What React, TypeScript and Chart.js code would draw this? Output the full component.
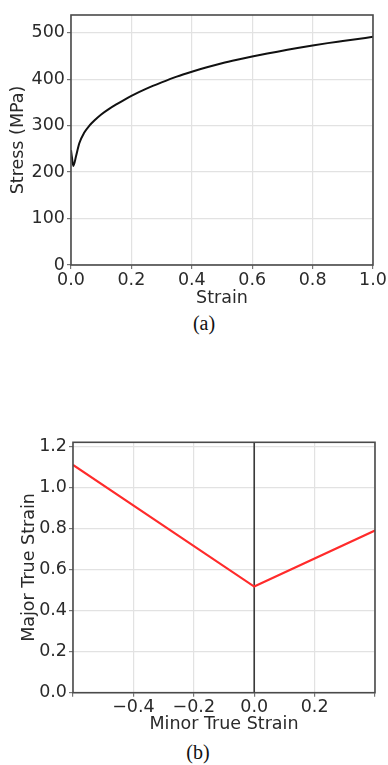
import React, { useEffect, useRef } from "react";
import { Chart, registerables } from "chart.js";

Chart.register(...registerables);

// ---- Data: (a) stress-strain curve ----
const strainA = [0, 0.003, 0.0076, 0.0166, 0.0275, 0.044, 0.061, 0.08, 0.1, 0.125, 0.15, 0.175, 0.2, 0.25, 0.3, 0.35, 0.4, 0.45, 0.5, 0.55, 0.6, 0.65, 0.7, 0.75, 0.8, 0.85, 0.9, 0.95, 1.0];
const stressA = [247, 232, 213, 234, 262, 285, 300, 312.5, 324, 335.5, 345.5, 355, 364, 379.5, 393, 405.5, 416, 425.5, 434, 441.5, 448.5, 455, 461, 467, 472.5, 477.5, 482, 486.5, 491];
const yTicksA = [0, 100, 200, 300, 400, 500];

// ---- Data: (b) forming limit curve ----
const minorStrainB = [-0.6, 0.0, 0.4];
const majorStrainB = [1.11, 0.517, 0.79];
const zeroLineX = [0, 0];
const zeroLineY = [0, 1.22];

const FONT = "'DejaVu Sans', sans-serif";
const TEXT = "#2a2a2a";
const FS = 17.5;

const framePlugin = {
  id: "frame",
  afterDatasetsDraw(chart: any) {
    const { ctx, chartArea } = chart;
    ctx.save();
    ctx.strokeStyle = "#4a4a4a";
    ctx.lineWidth = 1.6;
    ctx.strokeRect(chartArea.left, chartArea.top, chartArea.right - chartArea.left, chartArea.bottom - chartArea.top);
    ctx.restore();
  },
};

function axisCommon() {
  return {
    grid: { color: "#e2e2e2", lineWidth: 1.2, tickColor: "#777", tickLength: 4, drawTicks: true },
    border: { display: false },
  };
}

function ChartA() {
  const ref = useRef<HTMLCanvasElement>(null);
  useEffect(() => {
    const chart = new Chart(ref.current!, {
      type: "line",
      data: {
        datasets: [
          {
            data: strainA.map((x, i) => ({ x, y: stressA[i] })),
            borderColor: "#111",
            borderWidth: 2,
            pointRadius: 0,
            cubicInterpolationMode: "monotone",
            fill: false,
          },
        ],
      },
      options: {
        animation: false,
        responsive: false,
        devicePixelRatio: 1,
        layout: { padding: { top: 15, right: 15, left: 0, bottom: 0 } },
        plugins: { legend: { display: false }, tooltip: { enabled: false } },
        scales: {
          x: {
            type: "linear",
            min: 0,
            max: 1,
            ...axisCommon(),
            afterFit: (s: any) => { s.height = 45; },
            ticks: {
              stepSize: 0.2,
              padding: 1,
              color: TEXT,
              font: { family: FONT, size: FS },
              maxRotation: 0,
              callback: (v: any) => Number(v).toFixed(1),
            },
            title: { display: true, text: "Strain", color: TEXT, font: { family: FONT, size: FS }, padding: { top: 0, bottom: 1.5 } },
          },
          y: {
            type: "linear",
            min: 0,
            max: 538,
            ...axisCommon(),
            afterFit: (s: any) => { s.width = 71; },
            afterBuildTicks: (s: any) => { s.ticks = yTicksA.map((v) => ({ value: v })); },
            ticks: {
              stepSize: 100,
              includeBounds: false,
              padding: 2,
              color: TEXT,
              font: { family: FONT, size: FS },
            },
            title: { display: true, text: "Stress (MPa)", color: TEXT, font: { family: FONT, size: FS }, padding: { top: 7.5, bottom: 0 } },
          },
        },
      },
      plugins: [framePlugin],
    } as any);
    return () => chart.destroy();
  }, []);
  return <canvas ref={ref} width={388} height={310} style={{ position: "absolute", left: 0, top: 0, width: 388, height: 310 }} />;
}

function ChartB() {
  const ref = useRef<HTMLCanvasElement>(null);
  useEffect(() => {
    const fmt = (v: number) => {
      if (Math.abs(v + 0.6) < 1e-6 || Math.abs(v - 0.4) < 1e-6) return "";
      const s = Math.abs(v).toFixed(1);
      return v < -1e-9 ? "\u2212" + s : s;
    };
    const chart = new Chart(ref.current!, {
      type: "line",
      data: {
        datasets: [
          {
            data: minorStrainB.map((x, i) => ({ x, y: majorStrainB[i] })),
            borderColor: "#ff2b2b",
            borderWidth: 2.2,
            pointRadius: 0,
            fill: false,
          },
          {
            data: zeroLineX.map((x, i) => ({ x, y: zeroLineY[i] })),
            borderColor: "#3a3a3a",
            borderWidth: 1.6,
            pointRadius: 0,
            fill: false,
          },
        ],
      },
      options: {
        animation: false,
        responsive: false,
        devicePixelRatio: 1,
        layout: { padding: { top: 17.3, right: 13, left: 0, bottom: 0 } },
        plugins: { legend: { display: false }, tooltip: { enabled: false } },
        scales: {
          x: {
            type: "linear",
            min: -0.6,
            max: 0.4,
            ...axisCommon(),
            afterFit: (s: any) => { s.height = 42.3; },
            ticks: {
              stepSize: 0.2,
              padding: 0,
              color: TEXT,
              font: { family: FONT, size: FS },
              maxRotation: 0,
              autoSkip: false,
              callback: (v: any) => fmt(Number(v)),
            },
            title: { display: true, text: "Minor True Strain", color: TEXT, font: { family: FONT, size: FS }, padding: { top: 0, bottom: 0.5 } },
          },
          y: {
            type: "linear",
            min: 0,
            max: 1.22,
            ...axisCommon(),
            afterFit: (s: any) => { s.width = 73; },
            ticks: {
              stepSize: 0.2,
              includeBounds: false,
              padding: 2,
              color: TEXT,
              font: { family: FONT, size: FS },
              callback: (v: any) => Number(v).toFixed(1),
            },
            title: { display: true, text: "Major True Strain", color: TEXT, font: { family: FONT, size: FS }, padding: { top: 18.5, bottom: 0 } },
          },
        },
      },
      plugins: [framePlugin],
    } as any);
    return () => chart.destroy();
  }, []);
  return <canvas ref={ref} width={388} height={310} style={{ position: "absolute", left: 0, top: 425, width: 388, height: 310 }} />;
}

const captionStyle: React.CSSProperties = {
  position: "absolute",
  fontFamily: "'Liberation Serif', 'Times New Roman', serif",
  fontSize: 20,
  lineHeight: "24px",
  color: "#111",
  width: 60,
  textAlign: "center",
};

export default function App() {
  return (
    <div style={{ position: "fixed", left: 0, top: 0, width: 388, height: 765, background: "#fff", overflow: "hidden" }}>
      <ChartA />
      <div style={{ ...captionStyle, left: 174, top: 311 }}>(a)</div>
      <ChartB />
      <div style={{ ...captionStyle, left: 168, top: 740 }}>(b)</div>
    </div>
  );
}
